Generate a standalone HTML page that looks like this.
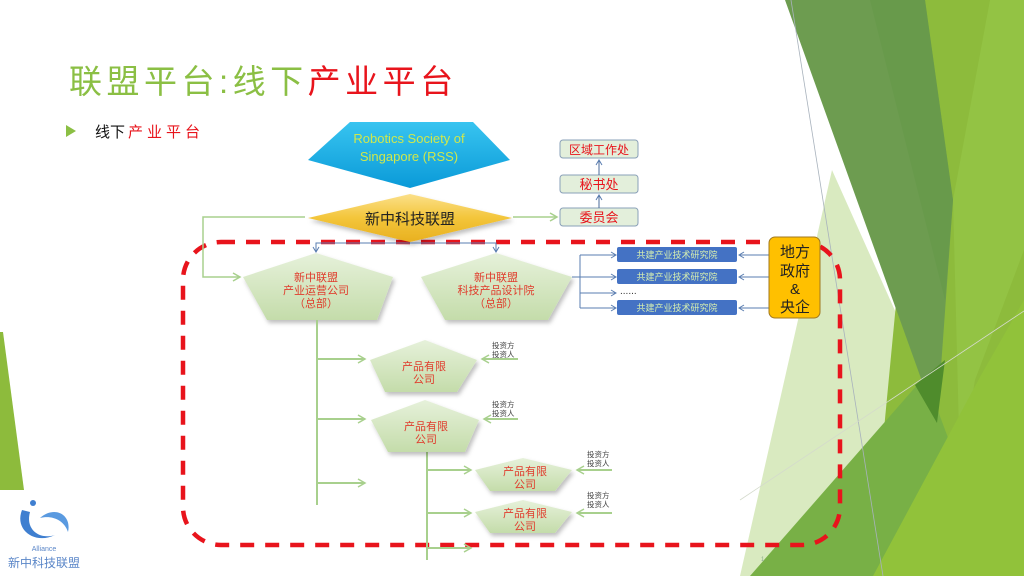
<!DOCTYPE html>
<html><head><meta charset="utf-8"><style>
html,body{margin:0;padding:0;background:#fff;}
svg{display:block}
text{font-family:"Liberation Sans","Noto Sans CJK SC",sans-serif}
</style></head><body>
<svg width="1024" height="576" viewBox="0 0 1024 576" xmlns="http://www.w3.org/2000/svg">
<defs>
<linearGradient id="cy" x1="0" y1="0" x2="0" y2="1"><stop offset="0" stop-color="#38c4f0"/><stop offset="1" stop-color="#0a9ad8"/></linearGradient>
<linearGradient id="gd" x1="0" y1="0" x2="0" y2="1"><stop offset="0" stop-color="#fbe08a"/><stop offset="0.5" stop-color="#f3c53a"/><stop offset="1" stop-color="#e8b020"/></linearGradient>
<linearGradient id="pg" x1="0" y1="0" x2="0" y2="1"><stop offset="0" stop-color="#e6f1da"/><stop offset="1" stop-color="#c4dcaa"/></linearGradient>
<marker id="ag" markerWidth="10" markerHeight="10" refX="8" refY="5" orient="auto" markerUnits="userSpaceOnUse"><path d="M1,1 L8,5 L1,9" fill="none" stroke="#a8d08d" stroke-width="1.5"/></marker>
<marker id="ab" markerWidth="8" markerHeight="8" refX="6" refY="4" orient="auto" markerUnits="userSpaceOnUse"><path d="M1,1 L6,4 L1,7" fill="none" stroke="#5a7db0" stroke-width="1"/></marker>
<filter id="sh" x="-10%" y="-10%" width="130%" height="140%"><feDropShadow dx="2" dy="3" stdDeviation="2" flood-color="#000" flood-opacity="0.25"/></filter>
</defs>

<!-- right background -->
<polygon points="832,170 935,400 780,576 740,576" fill="#d9eac0"/>
<polygon points="925,0 1024,0 1024,576 870,576" fill="#8dbb3c"/>
<polygon points="785,0 925,0 953,200 937,423" fill="#6d9c50"/>
<polygon points="870,0 925,0 953,200 945,300" fill="#669a48" opacity="0.6"/>
<polygon points="953,200 990,0 1024,0 1024,250 975,380 960,470" fill="#98c84a" opacity="0.6"/>
<polygon points="750,576 925,376 960,470 940,576" fill="#78b046"/>
<polygon points="915,385 937,423 945,360" fill="#4f8c2c"/>
<polygon points="873,576 980,377 1024,300 1024,576" fill="#91c23a"/>
<line x1="791" y1="0" x2="883" y2="576" stroke="#a8b2bc" stroke-width="0.8"/>
<line x1="740" y1="500" x2="1024" y2="311" stroke="#d4dacc" stroke-width="0.8"/>
<!-- left sliver -->
<polygon points="0,332 3,332 24,490 0,490" fill="#8dbb3c"/>

<!-- title -->
<text x="69" y="93" font-size="33" letter-spacing="4.5" fill="#8bbf44">联盟平台:线下<tspan fill="#e8141c">产业平台</tspan></text>
<polygon points="66,125 66,137 76,131" fill="#8bbf44"/>
<text x="95" y="137" font-size="15" fill="#111">线下<tspan fill="#e8141c" letter-spacing="4" dx="3">产业平台</tspan></text>

<!-- red dashed region -->
<rect x="183" y="242" width="657" height="303" rx="38" fill="none" stroke="#e8141c" stroke-width="4.5" stroke-dasharray="14 11"/>

<!-- RSS hexagon -->
<polygon points="350,122 473,122 510,160 410,188 308,160" fill="url(#cy)"/>
<text x="409" y="143" font-size="13" fill="#cfe84c" text-anchor="middle">Robotics Society of</text>
<text x="409" y="161" font-size="13" fill="#cfe84c" text-anchor="middle">Singapore (RSS)</text>

<!-- green connectors top -->
<polyline points="305,217 203,217 203,277 240,277" fill="none" stroke="#a8d08d" stroke-width="1.5" marker-end="url(#ag)"/>
<line x1="513" y1="217" x2="557" y2="217" stroke="#a8d08d" stroke-width="1.5" marker-end="url(#ag)"/>

<!-- diamond -->
<polygon points="410,194 512,218 410,242 308,218" fill="url(#gd)" filter="url(#sh)"/>
<text x="410" y="224" font-size="15" fill="#222" text-anchor="middle">新中科技联盟</text>

<!-- blue arrows from diamond -->
<polyline points="316,252 316,243 496,243 496,252" fill="none" stroke="#5a7db0" stroke-width="1"/>
<line x1="316" y1="243" x2="316" y2="252" stroke="#5a7db0" marker-end="url(#ab)"/>
<line x1="496" y1="243" x2="496" y2="252" stroke="#5a7db0" marker-end="url(#ab)"/>

<!-- right stack -->
<g font-size="12" fill="#e8141c" text-anchor="middle">
<rect x="560" y="140" width="78" height="18" rx="3" fill="#e3efdb" stroke="#8aa0b8"/><text x="599" y="154">区域工作处</text>
<rect x="560" y="175" width="78" height="18" rx="3" fill="#e3efdb" stroke="#8aa0b8"/><text x="599" y="189" font-size="13">秘书处</text>
<rect x="560" y="208" width="78" height="18" rx="3" fill="#e3efdb" stroke="#8aa0b8"/><text x="599" y="222" font-size="13">委员会</text>
</g>
<line x1="599" y1="175" x2="599" y2="160" stroke="#4a6a9a" marker-end="url(#ab)"/>
<line x1="599" y1="208" x2="599" y2="195" stroke="#4a6a9a" marker-end="url(#ab)"/>

<!-- main pentagons -->
<polygon points="316,253 393,277 377,320 267,320 243,277" fill="url(#pg)" filter="url(#sh)"/>
<g font-size="11" fill="#e03c2c" text-anchor="middle">
<text x="316" y="281">新中联盟</text><text x="316" y="294">产业运营公司</text><text x="316" y="307">（总部）</text>
</g>
<polygon points="496,253 572,277 548,320 445,320 421,277" fill="url(#pg)" filter="url(#sh)"/>
<g font-size="11" fill="#e03c2c" text-anchor="middle">
<text x="496" y="281">新中联盟</text><text x="496" y="294">科技产品设计院</text><text x="496" y="307">（总部）</text>
</g>

<!-- blue boxes bracket -->
<polyline points="572,277 580,277" stroke="#5a7db0" fill="none"/>
<line x1="580" y1="255" x2="580" y2="308" stroke="#5a7db0"/>
<g stroke="#5a7db0">
<line x1="580" y1="255" x2="616" y2="255" marker-end="url(#ab)"/>
<line x1="580" y1="277" x2="616" y2="277" marker-end="url(#ab)"/>
<line x1="580" y1="293" x2="616" y2="293" marker-end="url(#ab)"/>
<line x1="580" y1="308" x2="616" y2="308" marker-end="url(#ab)"/>
<line x1="769" y1="255" x2="739" y2="255" marker-end="url(#ab)"/>
<line x1="769" y1="277" x2="739" y2="277" marker-end="url(#ab)"/>
<line x1="769" y1="308" x2="739" y2="308" marker-end="url(#ab)"/>
</g>
<g font-size="9" fill="#d8f0b0" text-anchor="middle">
<rect x="617" y="247" width="120" height="15" rx="2" fill="#4472c4"/><text x="677" y="258">共建产业技术研究院</text>
<rect x="617" y="269" width="120" height="15" rx="2" fill="#4472c4"/><text x="677" y="280">共建产业技术研究院</text>
<rect x="617" y="300" width="120" height="15" rx="2" fill="#4472c4"/><text x="677" y="311">共建产业技术研究院</text>
</g>
<text x="620" y="294" font-size="10" fill="#333">......</text>
<rect x="769" y="237" width="51" height="81" rx="6" fill="#ffc000" stroke="#a07820"/>
<g font-size="15" fill="#222" text-anchor="middle">
<text x="795" y="257">地方</text><text x="795" y="276">政府</text><text x="795" y="294">&amp;</text><text x="795" y="312">央企</text>
</g>

<!-- green trunks -->
<g stroke="#a8d08d" stroke-width="2" fill="none">
<line x1="317" y1="320" x2="317" y2="505"/>
<line x1="317" y1="359" x2="365" y2="359" marker-end="url(#ag)"/>
<line x1="317" y1="419" x2="365" y2="419" marker-end="url(#ag)"/>
<line x1="317" y1="483" x2="365" y2="483" marker-end="url(#ag)"/>
<line x1="427" y1="452" x2="427" y2="560"/>
<line x1="427" y1="470" x2="471" y2="470" marker-end="url(#ag)"/>
<line x1="427" y1="513" x2="471" y2="513" marker-end="url(#ag)"/>
<line x1="427" y1="548" x2="471" y2="548" marker-end="url(#ag)"/>
<line x1="518" y1="359" x2="482" y2="359" marker-end="url(#ag)"/>
<line x1="518" y1="419" x2="484" y2="419" marker-end="url(#ag)"/>
<line x1="612" y1="470" x2="577" y2="470" marker-end="url(#ag)"/>
<line x1="612" y1="513" x2="577" y2="513" marker-end="url(#ag)"/>
</g>

<!-- product pentagons -->
<polygon points="425,340 477,360 457,392 385,392 370,360" fill="url(#pg)" filter="url(#sh)"/>
<polygon points="425,400 479,420 465,452 388,452 371,420" fill="url(#pg)" filter="url(#sh)"/>
<polygon points="523,458 572,470 555,491 490,491 475,470" fill="url(#pg)" filter="url(#sh)"/>
<polygon points="523,500 572,512 555,533 490,533 475,512" fill="url(#pg)" filter="url(#sh)"/>
<g font-size="11" fill="#e03c2c" text-anchor="middle">
<text x="424" y="370">产品有限</text><text x="424" y="383">公司</text>
<text x="426" y="430">产品有限</text><text x="426" y="443">公司</text>
<text x="525" y="475">产品有限</text><text x="525" y="488">公司</text>
<text x="525" y="517">产品有限</text><text x="525" y="530">公司</text>
</g>
<g font-size="7.5" fill="#444">
<text x="492" y="348">投资方</text><text x="492" y="357">投资人</text>
<text x="492" y="407">投资方</text><text x="492" y="416">投资人</text>
<text x="587" y="457">投资方</text><text x="587" y="466">投资人</text>
<text x="587" y="498">投资方</text><text x="587" y="507">投资人</text>
</g>

<!-- logo -->
<g>
<path d="M22,510 C14,530 35,545 55,535 C40,540 25,530 30,512 Z" fill="#3f7fd0"/>
<path d="M40,518 C55,505 72,515 68,532 C64,520 52,515 40,518 Z" fill="#5a9ae0"/>
<circle cx="33" cy="503" r="3" fill="#3f7fd0"/>
<text x="44" y="551" font-size="7" fill="#5a86c8" text-anchor="middle">Alliance</text>
<text x="44" y="567" font-size="12" fill="#5a86c8" text-anchor="middle">新中科技联盟</text>
</g>
<text x="761" y="561" font-size="6" fill="#8a8">1</text>
</svg>
</body></html>
